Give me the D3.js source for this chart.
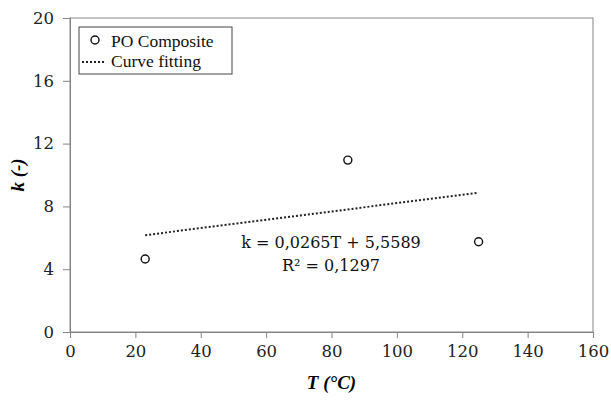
<!DOCTYPE html>
<html><head><meta charset="utf-8">
<script src="https://cdn.jsdelivr.net/npm/d3@7"></script>
<style>body{margin:0;background:#fff}</style>
</head><body>
<svg id="c" width="611" height="400"></svg>
<script>
const temps = [23, 85, 125];
const kValues = [4.65, 10.95, 5.75];
const xTicks = [0, 20, 40, 60, 80, 100, 120, 140, 160];
const yTicks = [0, 4, 8, 12, 16, 20];
const fitSlope = 0.0265, fitIntercept = 5.5589;
const fitRange = [23, 125];
const eqText = "k = 0,0265T + 5,5589";
const r2Text = "R² = 0,1297";
const legendLabels = ["PO Composite", "Curve fitting"];

const svg = d3.select("#c");
const m = {l:70, r:593, t:18, b:332};
const x = d3.scaleLinear().domain([0,160]).range([m.l, m.r]);
const y = d3.scaleLinear().domain([0,20]).range([m.b, m.t]);
const font = "'Liberation Serif', serif";
const font2 = "'DejaVu Serif', serif";
const axCol = "#858585";

svg.append("rect").attr("x", m.l).attr("y", m.t).attr("width", m.r-m.l).attr("height", m.b-m.t)
  .attr("fill","none").attr("stroke", axCol).attr("stroke-width",1);

const xa = svg.append("g").attr("transform",`translate(0,${m.b})`)
  .call(d3.axisBottom(x).tickValues(xTicks).tickSize(6).tickPadding(7).tickFormat(d3.format("d")));
const ya = svg.append("g").attr("transform",`translate(${m.l},0)`)
  .call(d3.axisLeft(y).tickValues(yTicks).tickSize(7).tickPadding(9).tickFormat(d3.format("d")));
[xa, ya].forEach(g => {
  g.attr("font-family", font2).attr("font-size", 16);
  g.select(".domain").attr("stroke", axCol);
  g.selectAll(".tick line").attr("stroke", axCol);
  g.selectAll("text").style("font-family", font2).style("font-size","16.5px").attr("fill","#222");
});

svg.append("text").attr("x", (m.l+m.r)/2).attr("y", 389).attr("text-anchor","middle")
  .style("font-family", font).style("font-size","19px").attr("font-weight","bold").attr("font-style","italic")
  .text("T (°C)");
svg.append("text").attr("transform", `translate(24,${(m.t+m.b)/2}) rotate(-90)`).attr("text-anchor","middle")
  .style("font-family", font).style("font-size","19px").attr("font-weight","bold").attr("font-style","italic")
  .text("k (-)");

const line = d3.line().x(d => x(d)).y(d => y(fitSlope*d + fitIntercept));
svg.append("path").attr("d", line(fitRange)).attr("fill","none").attr("stroke","#222")
  .attr("stroke-width",2).attr("stroke-dasharray","2,2");

svg.selectAll("circle.pt").data(temps.map((t,i)=>[t,kValues[i]])).enter().append("circle")
  .attr("class","pt").attr("cx", d=>x(d[0])).attr("cy", d=>y(d[1])).attr("r",4)
  .attr("fill","#fff").attr("stroke","#111").attr("stroke-width",1.4);

svg.append("text").attr("x", 331).attr("y", 248).attr("text-anchor","middle")
  .style("font-family", font2).style("font-size","16px").attr("fill","#111").text(eqText);
svg.append("text").attr("x", 331).attr("y", 271).attr("text-anchor","middle")
  .style("font-family", font2).style("font-size","16px").attr("fill","#111").text(r2Text);

const lg = svg.append("g");
lg.append("rect").attr("x",79).attr("y",27).attr("width",153).attr("height",47)
  .attr("fill","#fff").attr("stroke","#444").attr("stroke-width",1);
lg.append("circle").attr("cx",95).attr("cy",40).attr("r",4).attr("fill","#fff").attr("stroke","#111").attr("stroke-width",1.4);
lg.append("text").attr("x",111).attr("y",47).style("font-family",font).style("font-size","17.5px").attr("fill","#111").text(legendLabels[0]);
lg.append("line").attr("x1",82).attr("x2",105).attr("y1",62).attr("y2",62).attr("stroke","#222")
  .attr("stroke-width",2).attr("stroke-dasharray","2,2");
lg.append("text").attr("x",111).attr("y",67).style("font-family",font).style("font-size","17.5px").attr("fill","#111").text(legendLabels[1]);
</script>
</body></html>
